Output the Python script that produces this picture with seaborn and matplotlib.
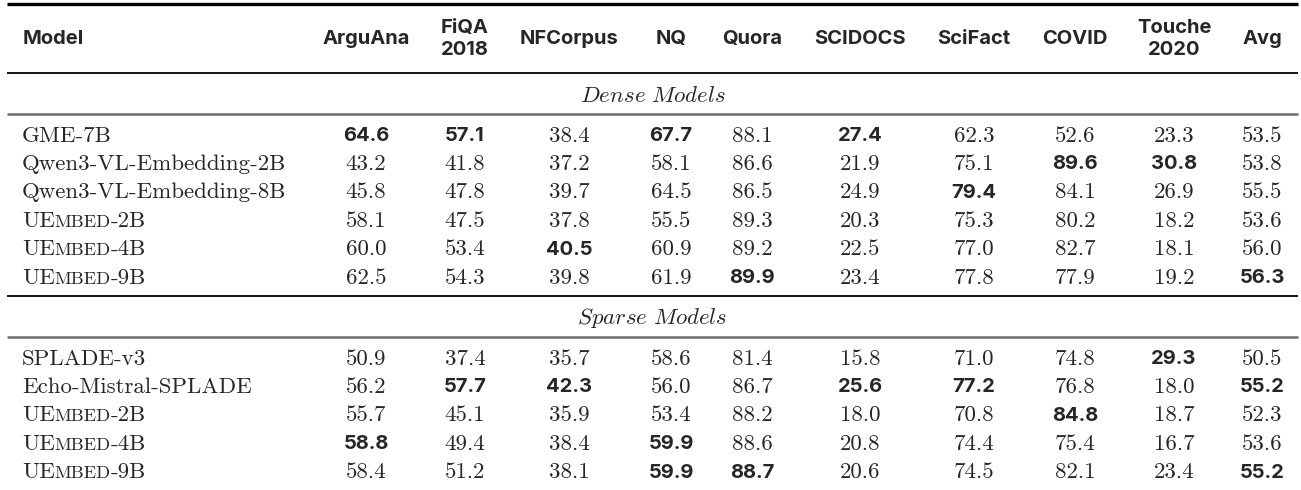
import matplotlib.pyplot as plt
import seaborn as sns
import numpy as np

# column headers and model names
columns = ['ArguAna', 'FiQA\n2018', 'NFCorpus', 'NQ', 'Quora', 'SCIDOCS',
           'SciFact', 'COVID', 'Touche\n2020', 'Avg']
sections = ['Dense Models', 'Sparse Models']

dense_models = ['GME-7B', 'Qwen3-VL-Embedding-2B', 'Qwen3-VL-Embedding-8B',
                'UEmbed-2B', 'UEmbed-4B', 'UEmbed-9B']
dense_scores = [
    [64.6, 57.1, 38.4, 67.7, 88.1, 27.4, 62.3, 52.6, 23.3, 53.5],
    [43.2, 41.8, 37.2, 58.1, 86.6, 21.9, 75.1, 89.6, 30.8, 53.8],
    [45.8, 47.8, 39.7, 64.5, 86.5, 24.9, 79.4, 84.1, 26.9, 55.5],
    [58.1, 47.5, 37.8, 55.5, 89.3, 20.3, 75.3, 80.2, 18.2, 53.6],
    [60.0, 53.4, 40.5, 60.9, 89.2, 22.5, 77.0, 82.7, 18.1, 56.0],
    [62.5, 54.3, 39.8, 61.9, 89.9, 23.4, 77.8, 77.9, 19.2, 56.3],
]

sparse_models = ['SPLADE-v3', 'Echo-Mistral-SPLADE', 'UEmbed-2B',
                 'UEmbed-4B', 'UEmbed-9B']
sparse_scores = [
    [50.9, 37.4, 35.7, 58.6, 81.4, 15.8, 71.0, 74.8, 29.3, 50.5],
    [56.2, 57.7, 42.3, 56.0, 86.7, 25.6, 77.2, 76.8, 18.0, 55.2],
    [55.7, 45.1, 35.9, 53.4, 88.2, 18.0, 70.8, 84.8, 18.7, 52.3],
    [58.8, 49.4, 38.4, 59.9, 88.6, 20.8, 74.4, 75.4, 16.7, 53.6],
    [58.4, 51.2, 38.1, 59.9, 88.7, 20.6, 74.5, 82.1, 23.4, 55.2],
]

sns.set_theme(style='white')
plt.rcParams['mathtext.fontset'] = 'cm'

SERIF = 'cmr10'
SANS = 'Inter'
serif_size = 16.5
sans_size = 14.5

# layout in pixel units
col_x = [366, 465, 569, 671, 752, 860, 974, 1075, 1174, 1262]
left, right = 7, 1298
name_x = 22
row_step = 28.4

fig, ax = plt.subplots(figsize=(13.01, 4.9), dpi=100)
ax.set_position([0, 0, 1, 1])
ax.set_xlim(0, 1301)
ax.set_ylim(490, 0)
ax.axis('off')


def draw_name(name, y):
    """Draw a model name; UEmbed is set in small caps like the LaTeX source"""
    base = y + 7.5
    if name.startswith('UEmbed'):
        t = ax.text(name_x, base, 'UE', fontfamily=SERIF, fontsize=serif_size,
                    va='baseline', ha='left')
        t = ax.annotate('MBED', xy=(1, base), xycoords=(t, 'data'),
                        fontfamily=SERIF, fontsize=serif_size * 0.8,
                        va='baseline', ha='left')
        ax.annotate(name[len('UEmbed'):], xy=(1, base), xycoords=(t, 'data'),
                    fontfamily=SERIF, fontsize=serif_size,
                    va='baseline', ha='left')
    else:
        ax.text(name_x, base, name, fontfamily=SERIF, fontsize=serif_size,
                va='baseline', ha='left')


def draw_block(models, scores, y0):
    arr = np.array(scores)
    best = arr.max(axis=0)
    for i, name in enumerate(models):
        y = y0 + i * row_step
        draw_name(name, y)
        for j, v in enumerate(arr[i]):
            if np.isclose(v, best[j]):
                ax.text(col_x[j], y + 7, f'{v:.1f}', fontfamily=SANS,
                        fontsize=sans_size, fontweight='bold',
                        ha='center', va='baseline')
            else:
                ax.text(col_x[j], y + 7.5, f'{v:.1f}', fontfamily=SERIF,
                        fontsize=serif_size, ha='center', va='baseline')


# header
ax.text(23, 39, 'Model', fontfamily=SANS, fontsize=sans_size,
        fontweight='bold', ha='left', va='center')
for x, c in zip(col_x, columns):
    ax.text(x, 39, c, fontfamily=SANS, fontsize=sans_size, fontweight='bold',
            ha='center', va='center', linespacing=1.35)

# rules
ax.hlines(4, left, right, color='black', lw=2.4)
ax.hlines(73, left, right, color='black', lw=1.3)
ax.hlines(114, left, right, color='#6e6e6e', lw=1.8)
ax.hlines(296, left, right, color='black', lw=1.3)
ax.hlines(337, left, right, color='#6e6e6e', lw=1.8)

# section labels in italic (math italic of Computer Modern)
mid = (left + right) / 2
for label, y in zip(sections, [95, 317]):
    ax.text(mid, y + 7, r'$\mathit{' + label.replace(' ', r'\ ') + '}$',
            fontsize=serif_size, ha='center', va='baseline')

draw_block(dense_models, dense_scores, 134)
draw_block(sparse_models, sparse_scores, 357)

fig.savefig('out.png', dpi=100)
